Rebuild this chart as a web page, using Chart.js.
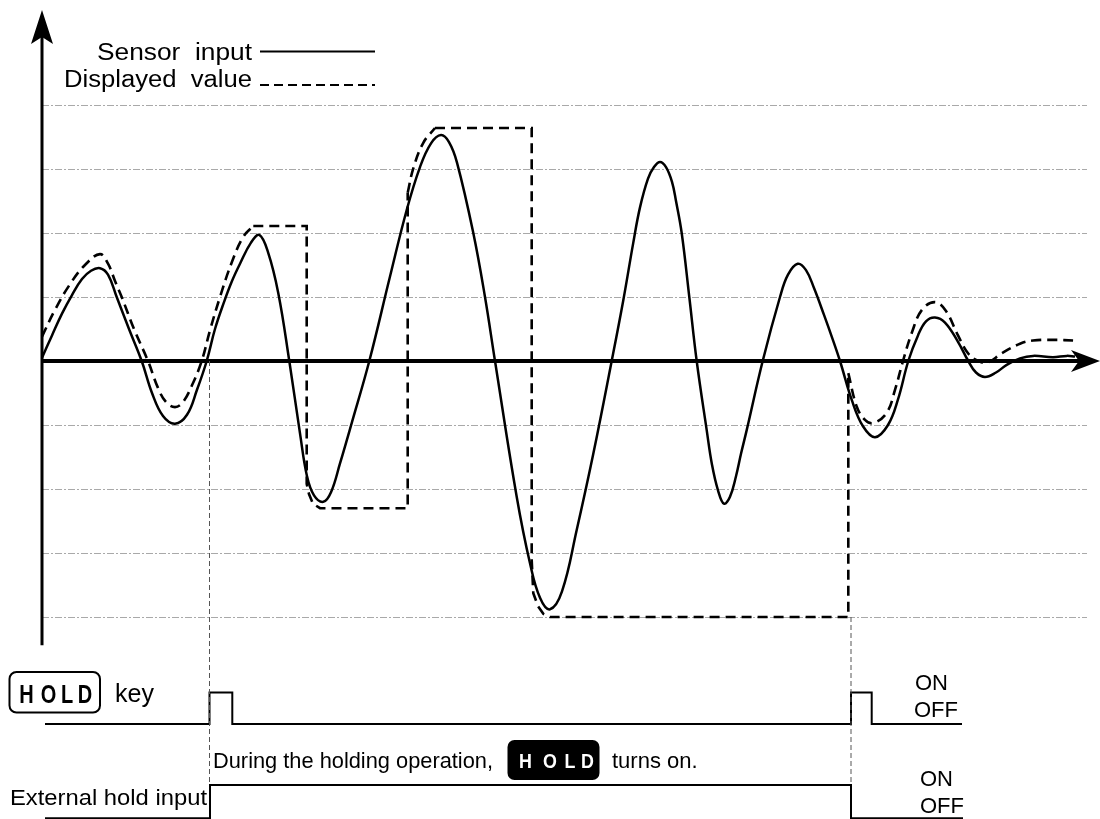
<!DOCTYPE html>
<html>
<head>
<meta charset="utf-8">
<style>
  html, body { margin: 0; padding: 0; background: #fff; }
  #wrap { width: 1100px; height: 819px; }
</style>
<script src="https://cdn.jsdelivr.net/npm/chart.js@4.4.0/dist/chart.umd.min.js"></script>
</head>
<body>
<div id="wrap"><canvas id="chart" width="1100" height="819"></canvas></div>
<script>
// time axis: 0 at the vertical axis, value axis: 1 unit = one grid line
const gridLevels = [-4, -3, -2, -1, 1, 2, 3, 4];

const sensorInput = [
  [0, 0.05], [1.0, 0.4], [2.0, 0.74], [3.0, 1.03], [4.0, 1.28], [4.9, 1.41], [5.8, 1.45], [6.6, 1.35],
  [7.47, 1.0], [8.7, 0.5], [9.97, 0], [11.0, -0.5], [12.1, -0.86], [13.3, -0.98], [14.5, -0.84], [15.5, -0.45],
  [16.47, 0], [17.3, 0.5], [18.2, 0.92], [19.0, 1.25], [19.8, 1.52], [20.9, 1.85], [21.73, 1.97], [22.6, 1.7],
  [23.63, 1.06], [24.73, 0], [25.8, -1.13], [26.5, -1.8], [27.2, -2.1], [28.13, -2.2], [28.9, -2.05], [29.8, -1.6],
  [30.97, -0.97], [32.73, 0], [34.8, 1.32], [36.47, 2.36], [37.8, 3.03], [38.9, 3.4], [39.9, 3.53], [40.7, 3.42],
  [41.5, 3.1], [43.13, 2.0], [44.3, 1.0], [45.3, 0], [47.47, -2.12], [48.8, -3.16], [49.8, -3.7], [50.8, -3.88],
  [52.0, -3.6], [53.47, -2.64], [55.13, -1.45], [56.97, 0], [58.13, 0.95], [59.13, 1.85], [59.8, 2.4], [60.6, 2.85],
  [61.2, 3.03], [61.8, 3.11], [62.4, 3.03], [63.0, 2.8], [63.4, 2.5], [63.97, 2.0], [64.73, 1.0], [65.47, 0],
  [66.47, -1.08], [67.0, -1.62], [67.6, -2.02], [68.2, -2.23], [68.8, -2.12], [69.4, -1.8], [69.9, -1.45],
  [70.47, -1.08], [72.07, 0],
  [73.8, 1.0], [74.6, 1.35], [75.57, 1.52], [76.4, 1.42], [77.2, 1.14], [78.2, 0.72], [79.0, 0.37], [79.8, 0],
  [81.0, -0.62], [82.1, -1.02], [83.3, -1.19], [84.6, -1.0], [85.6, -0.6], [86.63, 0],
  [87.6, 0.4], [88.4, 0.62], [89.3, 0.68], [90.3, 0.6], [91.6, 0.3], [92.63, 0],
  [93.4, -0.18], [94.3, -0.25], [95.4, -0.18], [96.47, -0.06], [97.8, 0.04], [99.1, 0.08],
  [101.1, 0.06], [102.47, 0.08], [103.3, 0.07]
];

// displayed value: tracking pieces and held pieces
const displayTrack1 = [[0, 0.38], [1.3, 0.8], [2.8, 1.2], [4.3, 1.5], [5.8, 1.67], [6.6, 1.52], [7.3, 1.25],
  [7.97, 1.0], [9.2, 0.5], [10.6, 0], [11.6, -0.42], [12.4, -0.64], [13.3, -0.72], [14.1, -0.64], [15.0, -0.38],
  [15.97, 0], [16.8, 0.48], [17.8, 1.0], [19.0, 1.55], [20.13, 1.94], [21.13, 2.11]];
const displayHold1 = [[21.13, 2.11], [26.47, 2.11], [26.47, -1.92], [26.7, -2.08], [27.1, -2.23], [27.8, -2.3],
  [36.57, -2.3], [36.57, 2.63]];
const displayTrack2 = [[36.57, 2.63], [37.13, 3.01], [38.13, 3.41], [39.3, 3.64]];
const displayHold2 = [[39.3, 3.64], [48.97, 3.64], [48.97, -3.11], [49.13, -3.63], [49.6, -3.83], [50.13, -3.95],
  [50.8, -4.0], [80.63, -4.0], [80.63, -0.19]];
const displayTrack3 = [[80.63, -0.19], [81.47, -0.71], [82.3, -0.92], [83.13, -0.97], [84.47, -0.81], [85.3, -0.45],
  [86.1, 0], [87.0, 0.45], [88.0, 0.8], [89.3, 0.92], [90.4, 0.78], [91.6, 0.4], [92.6, 0.12], [93.6, 0.0],
  [94.6, -0.02], [95.97, 0.12], [97.8, 0.27], [99.1, 0.32], [101.1, 0.33], [103.3, 0.32]];

// timing signals
const holdKeyPulses = [[16.75, 19.03], [80.9, 82.97]];
const externalHoldOn = [16.8, 80.9];
const signalSpan = [0.3, 92.0];

const HOLD_OFF = -5.672, HOLD_ON = -5.18;
const EXT_OFF = -7.145, EXT_ON = -6.625;

const pts = (arr) => arr.map(([x, y]) => ({ x: x, y: y }));

const holdKeyLine = [[signalSpan[0], HOLD_OFF]];
holdKeyPulses.forEach(([a, b]) => {
  holdKeyLine.push([a, HOLD_OFF], [a, HOLD_ON], [b, HOLD_ON], [b, HOLD_OFF]);
});
holdKeyLine.push([signalSpan[1], HOLD_OFF]);

// low before and after, high while holding
const extHoldLine = [
  [signalSpan[0], EXT_OFF], [externalHoldOn[0], EXT_OFF], [externalHoldOn[0], EXT_ON],
  [externalHoldOn[1], EXT_ON], [externalHoldOn[1], EXT_OFF], [signalSpan[1] + 0.1, EXT_OFF]
];

const guide1 = [[holdKeyPulses[0][0], 0], [holdKeyPulses[0][0], EXT_ON]];
const guide2 = [[holdKeyPulses[1][0], -4], [holdKeyPulses[1][0], EXT_ON]];

const solidStyle = { borderColor: "#000", borderWidth: 2.5, pointRadius: 0, fill: false };
const dashStyle = { borderColor: "#000", borderWidth: 2.6, borderDash: [10, 6], pointRadius: 0, fill: false };
const guideStyle = { borderColor: "#555", borderWidth: 1, borderDash: [5, 3], pointRadius: 0, fill: false };

function drawText(ctx, text, x, y, font, align, width) {
  ctx.save();
  ctx.font = font;
  ctx.textAlign = align;
  ctx.textBaseline = "alphabetic";
  let sx = 1;
  if (width) sx = width / ctx.measureText(text).width;
  ctx.translate(x, y);
  ctx.scale(sx, 1);
  ctx.fillText(text, 0, 0);
  ctx.restore();
}

function holdLetters(ctx, centers, baseline, font, sx, color) {
  ctx.save();
  ctx.font = font;
  ctx.fillStyle = color;
  ctx.textAlign = "center";
  "HOLD".split("").forEach((ch, i) => {
    ctx.save();
    ctx.translate(centers[i], baseline);
    ctx.scale(sx, 1);
    ctx.fillText(ch, 0, 0);
    ctx.restore();
  });
  ctx.restore();
}

const diagramDecor = {
  id: "diagramDecor",
  beforeDatasetsDraw(chart) {
    const { ctx, scales: { x, y } } = chart;
    const x0 = x.getPixelForValue(0);
    const y0 = y.getPixelForValue(0);
    ctx.save();
    // dash-dot grid lines
    ctx.strokeStyle = "#a9a9a9";
    ctx.lineWidth = 1;
    ctx.setLineDash([7, 2, 2, 2]);
    gridLevels.forEach((v) => {
      const py = Math.round(y.getPixelForValue(v)) + 0.5;
      ctx.beginPath();
      ctx.moveTo(x0, py);
      ctx.lineTo(x.getPixelForValue(104.5), py);
      ctx.stroke();
    });
    ctx.setLineDash([]);
    ctx.strokeStyle = "#000";
    // vertical axis
    ctx.lineWidth = 3;
    ctx.beginPath();
    ctx.moveTo(x0, y.getPixelForValue(-4.44));
    ctx.lineTo(x0, 36);
    ctx.stroke();
    // horizontal axis
    ctx.lineWidth = 4;
    ctx.beginPath();
    ctx.moveTo(x0, y0);
    ctx.lineTo(1082, y0);
    ctx.stroke();
    ctx.restore();
  },
  afterDatasetsDraw(chart) {
    const { ctx, scales: { x, y } } = chart;
    const x0 = x.getPixelForValue(0);
    const y0 = y.getPixelForValue(0);
    ctx.save();
    ctx.fillStyle = "#000";
    // arrow heads
    ctx.beginPath();
    ctx.moveTo(x0, 10);
    ctx.lineTo(x0 - 11, 44);
    ctx.lineTo(x0, 37);
    ctx.lineTo(x0 + 11, 44);
    ctx.closePath();
    ctx.fill();
    ctx.beginPath();
    ctx.moveTo(1100, y0);
    ctx.lineTo(1071, y0 - 11);
    ctx.lineTo(1079, y0);
    ctx.lineTo(1071, y0 + 11);
    ctx.closePath();
    ctx.fill();

    // legend
    const f = '23px "Liberation Sans", Arial, sans-serif';
    drawText(ctx, "Sensor  input", 252, 60, f, "right", 155);
    drawText(ctx, "Displayed  value", 252, 87, f, "right", 188);
    ctx.strokeStyle = "#000";
    ctx.lineWidth = 2;
    ctx.beginPath();
    ctx.moveTo(260, 51.5);
    ctx.lineTo(375, 51.5);
    ctx.stroke();
    ctx.setLineDash([9, 5]);
    ctx.beginPath();
    ctx.moveTo(260, 85);
    ctx.lineTo(375, 85);
    ctx.stroke();
    ctx.setLineDash([]);

    // HOLD key label (outlined)
    ctx.lineWidth = 2;
    ctx.beginPath();
    ctx.roundRect(9.5, 672, 90.5, 40.5, 7);
    ctx.stroke();
    holdLetters(ctx, [26.5, 48.5, 67, 85], 703, 'bold 25px "Liberation Sans", Arial, sans-serif', 0.8, "#000");
    const t = '22px "Liberation Sans", Arial, sans-serif';
    drawText(ctx, "key", 115, 702, '25px "Liberation Sans", Arial, sans-serif', "left");

    drawText(ctx, "ON", 915, 689.5, t, "left");
    drawText(ctx, "OFF", 914, 716.5, t, "left");
    drawText(ctx, "ON", 920, 786, t, "left");
    drawText(ctx, "OFF", 920, 813, t, "left");

    drawText(ctx, "External hold input", 207, 805, t, "right", 197);
    drawText(ctx, "During the holding operation,", 213, 768, t, "left", 280);
    // HOLD indicator (filled)
    ctx.fillStyle = "#000";
    ctx.beginPath();
    ctx.roundRect(507.5, 740, 92, 40, 7);
    ctx.fill();
    holdLetters(ctx, [525.5, 550, 570, 587.5], 768, 'bold 21px "Liberation Sans", Arial, sans-serif', 0.85, "#fff");
    ctx.fillStyle = "#000";
    drawText(ctx, "turns on.", 612, 768, t, "left");
    ctx.restore();
  }
};

new Chart(document.getElementById("chart").getContext("2d"), {
  type: "line",
  data: {
    datasets: [
      Object.assign({ label: "guide1", data: pts(guide1), tension: 0 }, guideStyle),
      Object.assign({ label: "guide2", data: pts(guide2), tension: 0 }, guideStyle),
      Object.assign({ label: "Sensor input", data: pts(sensorInput), tension: 0.4 }, solidStyle),
      Object.assign({ label: "Displayed value", data: pts(displayTrack1), tension: 0.4 }, dashStyle),
      Object.assign({ label: "held 1", data: pts(displayHold1), tension: 0 }, dashStyle),
      Object.assign({ label: "track 2", data: pts(displayTrack2), tension: 0.4 }, dashStyle),
      Object.assign({ label: "held 2", data: pts(displayHold2), tension: 0 }, dashStyle),
      Object.assign({ label: "track 3", data: pts(displayTrack3), tension: 0.4 }, dashStyle),
      Object.assign({ label: "HOLD key", data: pts(holdKeyLine), tension: 0 }, solidStyle, { borderWidth: 2 }),
      Object.assign({ label: "External hold input", data: pts(extHoldLine), tension: 0 }, solidStyle, { borderWidth: 2 })
    ]
  },
  options: {
    responsive: false,
    animation: false,
    events: [],
    layout: { padding: 0 },
    elements: { point: { radius: 0 } },
    plugins: { legend: { display: false }, tooltip: { enabled: false } },
    scales: {
      x: { type: "linear", min: -4.2, max: 105.8, display: false },
      y: { type: "linear", min: -7.15625, max: 5.640625, display: false }
    }
  },
  plugins: [diagramDecor]
});
</script>
</body>
</html>
